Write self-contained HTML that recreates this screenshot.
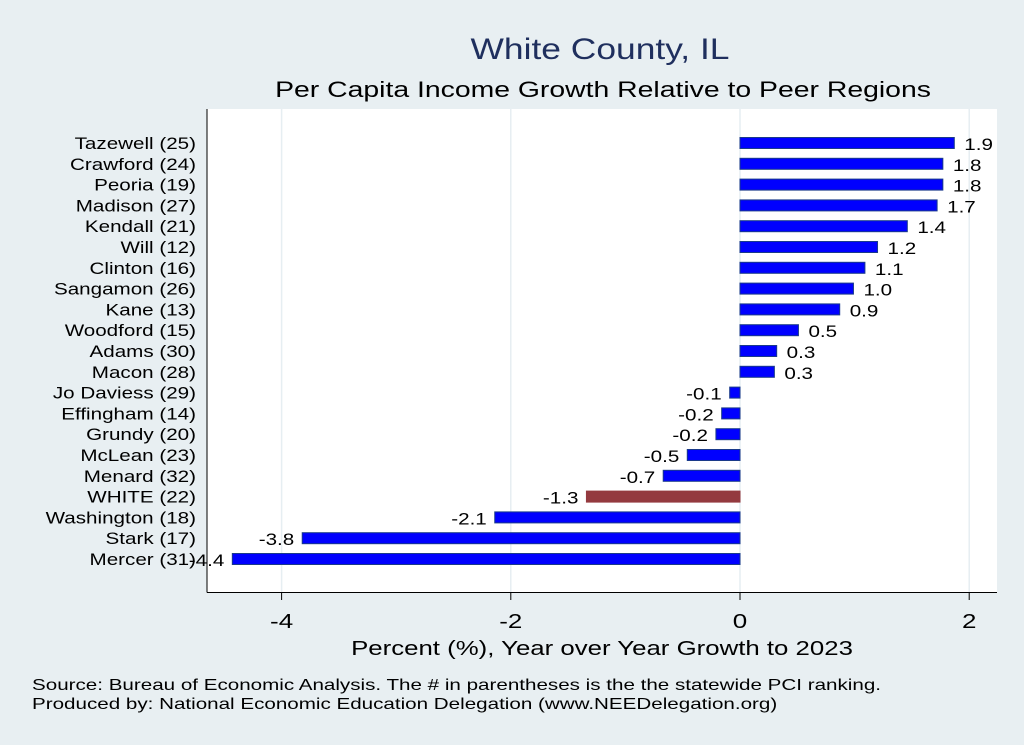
<!DOCTYPE html>
<html><head><meta charset="utf-8"><style>
html,body{margin:0;padding:0;background:#e8eff2;}
svg{display:block;font-family:"Liberation Sans",Arial,sans-serif;}
</style></head><body>
<svg id="chart" width="1024" height="745" viewBox="0 0 1024 745">
<rect width="1024" height="745" fill="#e8eff2"/>
<text transform="translate(600,59) scale(1.18,1)" text-anchor="middle" font-size="30" fill="#1f2f5e">White County, IL</text>
<text transform="translate(603,97) scale(1.29,1)" text-anchor="middle" font-size="22" fill="#000">Per Capita Income Growth Relative to Peer Regions</text>
<rect x="207" y="109" width="790" height="483" fill="#fff"/>
<g id="grid"></g>
<g id="bars"></g>
<line x1="207" y1="109" x2="207" y2="592.5" stroke="#000" stroke-width="1"/>
<line x1="207" y1="592.5" x2="997" y2="592.5" stroke="#000" stroke-width="1"/>
<g id="xticks"></g>
<text transform="translate(602,655) scale(1.29,1)" text-anchor="middle" font-size="20" fill="#000">Percent (%), Year over Year Growth to 2023</text>
<text transform="translate(32,690) scale(1.33,1)" font-size="15.5" fill="#000">Source: Bureau of Economic Analysis. The # in parentheses is the the statewide PCI ranking.</text>
<text transform="translate(32,709) scale(1.33,1)" font-size="15.5" fill="#000">Produced by: National Economic Education Delegation (www.NEEDelegation.org)</text>
</svg>
<script>
const categories=["Tazewell (25)","Crawford (24)","Peoria (19)","Madison (27)","Kendall (21)","Will (12)","Clinton (16)","Sangamon (26)","Kane (13)","Woodford (15)","Adams (30)","Macon (28)","Jo Daviess (29)","Effingham (14)","Grundy (20)","McLean (23)","Menard (32)","WHITE (22)","Washington (18)","Stark (17)","Mercer (31)"];
const values=[1.87,1.77,1.77,1.72,1.46,1.20,1.09,0.99,0.87,0.51,0.32,0.30,-0.09,-0.16,-0.21,-0.46,-0.67,-1.34,-2.14,-3.82,-4.43];
const valueLabels=["1.9","1.8","1.8","1.7","1.4","1.2","1.1","1.0","0.9","0.5","0.3","0.3","-0.1","-0.2","-0.2","-0.5","-0.7","-1.3","-2.1","-3.8","-4.4"];
const highlight="WHITE (22)";
const xTicks=[-4,-2,0,2];
const xTickLabels=["-4","-2","0","2"];

const NS="http://www.w3.org/2000/svg";
const xs=v=>740+v*114.6;
const ys=i=>143+i*20.8;
function mk(tag,attrs,parent){const e=document.createElementNS(NS,tag);for(const k in attrs)e.setAttribute(k,attrs[k]);parent.appendChild(e);return e;}
const grid=document.getElementById('grid'),bars=document.getElementById('bars'),xt=document.getElementById('xticks'),svg=document.getElementById('chart');
xTicks.forEach((t,i)=>{
  const g=mk('line',{x1:xs(t),x2:xs(t),y1:109,y2:592,stroke:'#e6eef2','stroke-width':1.5},grid);
  
  
  const tk=mk('line',{x1:xs(t),x2:xs(t),y1:592,y2:600,stroke:'#000'},xt);
  
  
  const tl=mk('text',{transform:'translate('+xs(t)+',628) scale(1.3,1)','text-anchor':'middle','font-size':20,fill:'#000'},xt);
  tl.textContent=xTickLabels[i];
  
  
});
categories.forEach((c,i)=>{
  const v=values[i],y=ys(i);
  const x0=Math.min(xs(0),xs(v)),w=Math.abs(xs(v)-xs(0));
  const isH=c===highlight;
  const r=mk('rect',{x:x0,y:y-5.5,width:w,height:11,fill:isH?'#943a3f':'#0000ff',stroke:isH?'#943a3f':'#1a3a8a','stroke-width':1},bars);
  
  
  const lx=v>=0?xs(v)+10:xs(v)-8;
  const lt=mk('text',{transform:'translate('+lx+','+(y+7)+') scale(1.25,1)','text-anchor':v>=0?'start':'end','font-size':16.5,fill:'#000'},bars);
  lt.textContent=valueLabels[i];
  
  
  const cl=mk('text',{transform:'translate(196,'+(y+6)+') scale(1.25,1)','text-anchor':'end','font-size':16.5,fill:'#000'},svg);
  cl.textContent=c;
  
  
});
</script>
</body></html>
